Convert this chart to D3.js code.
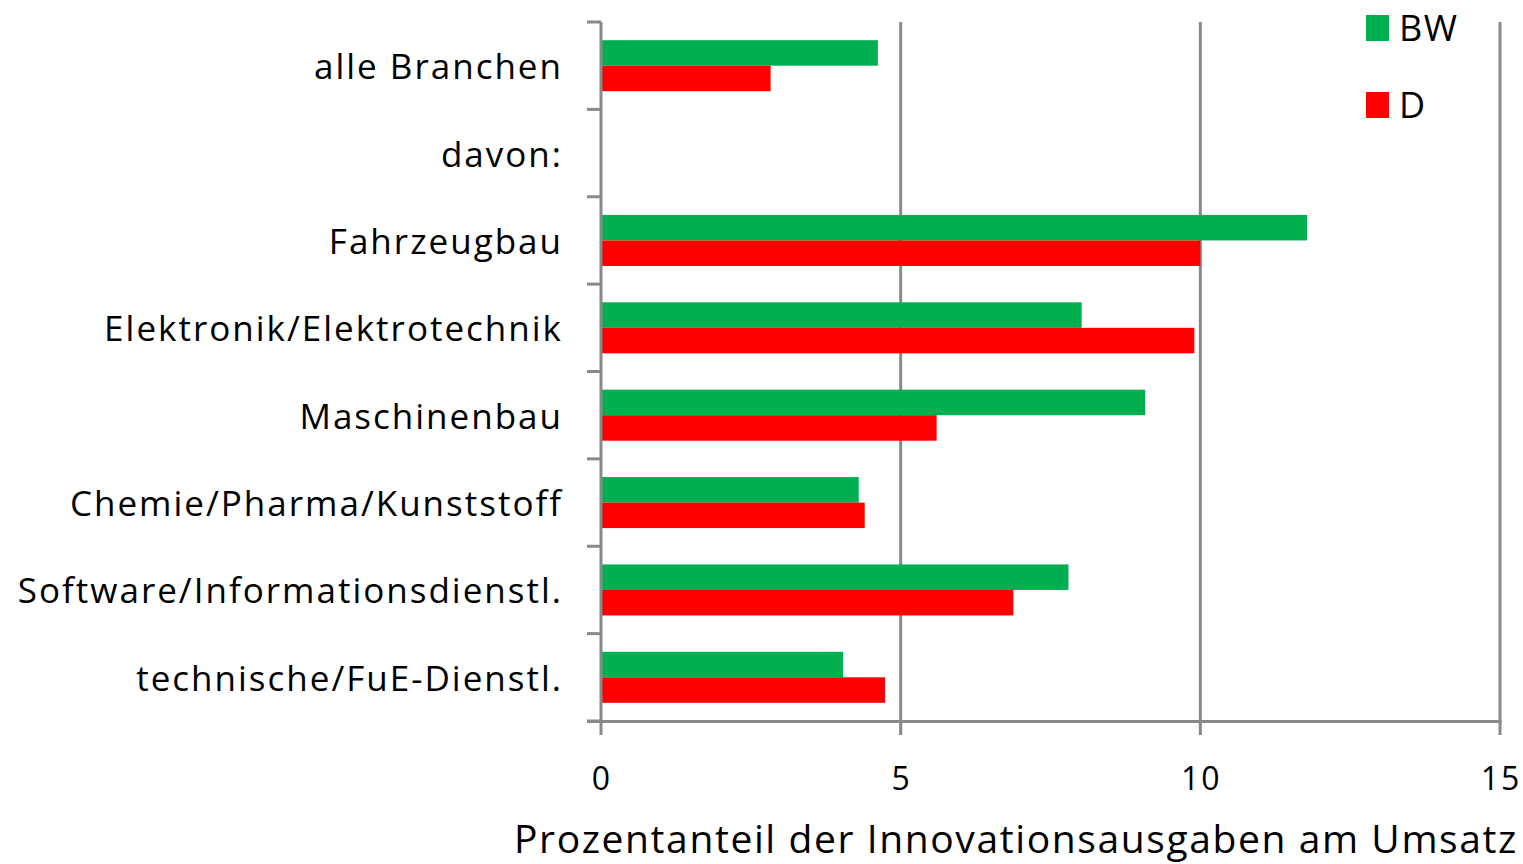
<!DOCTYPE html>
<html><head><meta charset="utf-8">
<script src="https://cdn.jsdelivr.net/npm/d3@7"></script>
<style>body{margin:0;background:#fff}svg{display:block}</style>
</head><body>
<svg id="c" width="1523" height="864"></svg>
<script>
const categories = ["alle Branchen","davon:","Fahrzeugbau","Elektronik/Elektrotechnik","Maschinenbau","Chemie/Pharma/Kunststoff","Software/Informationsdienstl.","technische/FuE-Dienstl."];
const seriesNames = ["BW","D"];
const bwValues = [4.62, null, 11.78, 8.02, 9.08, 4.3, 7.8, 4.04];
const dValues  = [2.83, null, 10.0, 9.9, 5.6, 4.4, 6.88, 4.74];
const xTicks = [0,5,10,15];
const colors = ["#00B050","#FF0000"];
const xTitle = "Prozentanteil der Innovationsausgaben am Umsatz";

const svg = d3.select("#c");
const font = "'Open Sans', 'Noto Sans', sans-serif";
const x = d3.scaleLinear().domain([0,15]).range([601,1500]);
const y = d3.scaleBand().domain(categories).range([22,721]).paddingInner(0.416).paddingOuter(0.208);
const sub = d3.scaleBand().domain(seriesNames).range([0,y.bandwidth()]);
const grid = "#898989";

// gridlines
svg.append("g").selectAll("line").data(xTicks.filter(d=>d>0)).join("line")
  .attr("x1",d=>x(d)).attr("x2",d=>x(d)).attr("y1",22).attr("y2",735)
  .attr("stroke",grid).attr("stroke-width",3);

// bars
const series = [bwValues, dValues];
series.forEach((vals,si)=>{
  svg.append("g").selectAll("rect").data(categories.map((c,i)=>({c,v:vals[i]})).filter(d=>d.v!=null)).join("rect")
    .attr("x",x(0)+1).attr("y",d=>y(d.c)+sub(seriesNames[si]))
    .attr("width",d=>x(d.v)-x(0)-1).attr("height",sub.bandwidth())
    .attr("fill",colors[si]);
});

// left axis line and ticks
svg.append("line").attr("x1",x(0)).attr("x2",x(0)).attr("y1",22).attr("y2",735).attr("stroke",grid).attr("stroke-width",3);
const step = y.step();
const bounds = d3.range(categories.length+1).map(i=>22+i*step);
svg.append("g").selectAll("line").data(bounds).join("line")
  .attr("x1",587).attr("x2",x(0)).attr("y1",d=>d).attr("y2",d=>d)
  .attr("stroke",grid).attr("stroke-width",3);
// bottom axis line
svg.append("line").attr("x1",587).attr("x2",x(15)+1.5).attr("y1",721.5).attr("y2",721.5).attr("stroke",grid).attr("stroke-width",3);

// x tick labels
svg.append("g").selectAll("text").data(xTicks).join("text")
  .attr("x",d=>x(d)+1).attr("y",790).attr("text-anchor","middle")
  .attr("font-family",font).attr("font-size",32).attr("letter-spacing",2).attr("fill","#000").text(d=>d);

// category labels
svg.append("g").selectAll("text").data(categories).join("text")
  .attr("x",563).attr("y",d=>y(d)+y.bandwidth()/2+13.5).attr("text-anchor","end")
  .attr("font-family",font).attr("font-size",35).attr("letter-spacing",2).attr("fill","#000").text(d=>d);

// x title
svg.append("text").attr("x",1016).attr("y",853).attr("text-anchor","middle")
  .attr("font-family",font).attr("font-size",39).attr("letter-spacing",1.6).attr("fill","#000").text(xTitle);

// legend
const lg = svg.append("g");
seriesNames.forEach((s,i)=>{
  lg.append("rect").attr("x",1366).attr("y",15+i*77).attr("width",23).attr("height",26).attr("fill",colors[i]);
  lg.append("text").attr("x",1399).attr("y",41+i*77).attr("font-family",font).attr("font-size",36).attr("letter-spacing",1.5).attr("fill","#000").text(s);
});
</script>
</body></html>
